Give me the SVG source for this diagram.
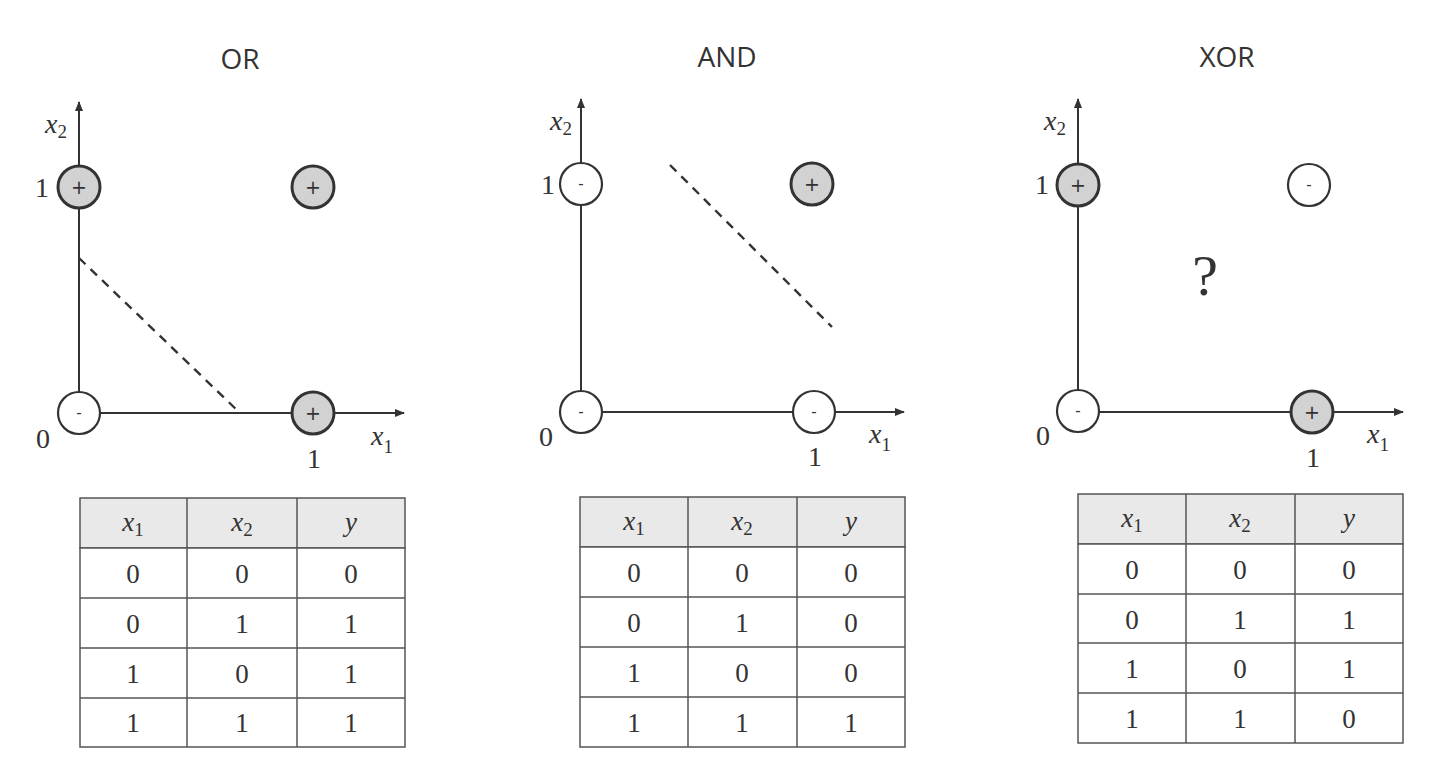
<svg xmlns="http://www.w3.org/2000/svg" width="1440" height="760" viewBox="0 0 1440 760">
<defs>
<marker id="arr" viewBox="0 0 10 10" refX="9" refY="5" markerWidth="10" markerHeight="10" markerUnits="userSpaceOnUse" orient="auto">
<path d="M0,1 L10,5 L0,9 Z" fill="#333"/>
</marker>
</defs>
<style>
.title{font-family:"Open Sans","Liberation Sans",sans-serif;font-size:28px;fill:#333;text-anchor:middle}
.axis{stroke:#333;stroke-width:2;fill:none}
.dash{stroke:#333;stroke-width:2.4;stroke-dasharray:9,7;fill:none}
.pos{fill:#d2d2d2;stroke:#333;stroke-width:3}
.neg{fill:#fff;stroke:#333;stroke-width:2.2}
.sym{font-family:"DejaVu Sans",sans-serif;font-size:19px;fill:#333;text-anchor:middle}
.msym{font-family:"DejaVu Sans",sans-serif;font-size:15px;fill:#333;text-anchor:middle}
.num{font-family:"Liberation Serif",serif;font-size:28px;fill:#333;text-anchor:middle}
.var{font-family:"Liberation Serif",serif;font-style:italic;font-size:28px;fill:#333;text-anchor:middle}
.sub{font-size:19px;font-style:normal}
.hvar{font-family:"Liberation Serif",serif;font-style:italic;font-size:27px;fill:#333;text-anchor:middle}
.hsub{font-size:19px;font-style:normal}
.hdr{fill:#e9e9e9;stroke:#555;stroke-width:1.5}
.cell{fill:#fff;stroke:#555;stroke-width:1.5}
.grid{stroke:#555;stroke-width:1.5;fill:none}
.tnum{font-family:"Liberation Serif",serif;font-size:27px;fill:#333;text-anchor:middle}
</style>

<!-- OR panel -->
<g id="or-panel">
<text class="title" x="240" y="69">OR</text>
<g id="or-axes">
<line class="axis" x1="79" y1="413" x2="79" y2="102" marker-end="url(#arr)"/>
<line class="axis" x1="79" y1="413" x2="404" y2="413" marker-end="url(#arr)"/>
<line class="dash" x1="79" y1="258" x2="240" y2="413"/>
</g>
<text class="var" x="56" y="133">x<tspan class="sub" dy="5">2</tspan></text>
<text class="num" x="42" y="197">1</text>
<text class="num" x="43" y="448">0</text>
<text class="var" x="382" y="445">x<tspan class="sub" dy="8">1</tspan></text>
<text class="num" x="314" y="468">1</text>
<g id="or-p01"><circle class="pos" cx="79" cy="187" r="21"/><text class="sym" x="79" y="194">+</text></g>
<g id="or-p11"><circle class="pos" cx="313" cy="187" r="21"/><text class="sym" x="313" y="194">+</text></g>
<g id="or-p00"><circle class="neg" cx="79" cy="413" r="21"/><text class="msym" x="79" y="418">-</text></g>
<g id="or-p10"><circle class="pos" cx="313" cy="413" r="21"/><text class="sym" x="313" y="420">+</text></g>
<g id="or-table">
<rect class="hdr" x="80" y="498" width="325" height="50"/>
<rect class="cell" x="80" y="548" width="325" height="199"/>
<path class="grid" d="M187,498 V747 M297,498 V747 M80,598 H405 M80,648 H405 M80,698 H405"/>
<text class="hvar" x="133" y="531">x<tspan class="hsub" dy="5">1</tspan></text>
<text class="hvar" x="242" y="531">x<tspan class="hsub" dy="5">2</tspan></text>
<text class="hvar" x="351" y="531">y</text>
<text class="tnum" x="133" y="583">0</text><text class="tnum" x="242" y="583">0</text><text class="tnum" x="351" y="583">0</text>
<text class="tnum" x="133" y="633">0</text><text class="tnum" x="242" y="633">1</text><text class="tnum" x="351" y="633">1</text>
<text class="tnum" x="133" y="683">1</text><text class="tnum" x="242" y="683">0</text><text class="tnum" x="351" y="683">1</text>
<text class="tnum" x="133" y="732">1</text><text class="tnum" x="242" y="732">1</text><text class="tnum" x="351" y="732">1</text>
</g>
</g>

<!-- AND panel -->
<g id="and-panel">
<text class="title" x="727" y="67">AND</text>
<g id="and-axes">
<line class="axis" x1="581" y1="412" x2="581" y2="99" marker-end="url(#arr)"/>
<line class="axis" x1="581" y1="412" x2="904" y2="412" marker-end="url(#arr)"/>
<line class="dash" x1="670" y1="165" x2="832" y2="327"/>
</g>
<text class="var" x="561" y="130">x<tspan class="sub" dy="5">2</tspan></text>
<text class="num" x="548" y="194">1</text>
<text class="num" x="546" y="446">0</text>
<text class="var" x="880" y="443">x<tspan class="sub" dy="8">1</tspan></text>
<text class="num" x="815" y="466">1</text>
<g id="and-p01"><circle class="neg" cx="581" cy="184" r="21"/><text class="msym" x="581" y="189">-</text></g>
<g id="and-p11"><circle class="pos" cx="812" cy="184" r="21"/><text class="sym" x="812" y="191">+</text></g>
<g id="and-p00"><circle class="neg" cx="581" cy="412" r="21"/><text class="msym" x="581" y="417">-</text></g>
<g id="and-p10"><circle class="neg" cx="814" cy="412" r="21"/><text class="msym" x="814" y="417">-</text></g>
<g id="and-table">
<rect class="hdr" x="580" y="497" width="325" height="50"/>
<rect class="cell" x="580" y="547" width="325" height="200"/>
<path class="grid" d="M688,497 V747 M797,497 V747 M580,597 H905 M580,647 H905 M580,697 H905"/>
<text class="hvar" x="634" y="530">x<tspan class="hsub" dy="5">1</tspan></text>
<text class="hvar" x="742" y="530">x<tspan class="hsub" dy="5">2</tspan></text>
<text class="hvar" x="851" y="530">y</text>
<text class="tnum" x="634" y="582">0</text><text class="tnum" x="742" y="582">0</text><text class="tnum" x="851" y="582">0</text>
<text class="tnum" x="634" y="632">0</text><text class="tnum" x="742" y="632">1</text><text class="tnum" x="851" y="632">0</text>
<text class="tnum" x="634" y="682">1</text><text class="tnum" x="742" y="682">0</text><text class="tnum" x="851" y="682">0</text>
<text class="tnum" x="634" y="732">1</text><text class="tnum" x="742" y="732">1</text><text class="tnum" x="851" y="732">1</text>
</g>
</g>

<!-- XOR panel -->
<g id="xor-panel">
<text class="title" x="1227" y="67">XOR</text>
<g id="xor-axes">
<line class="axis" x1="1078" y1="412" x2="1078" y2="99" marker-end="url(#arr)"/>
<line class="axis" x1="1078" y1="412" x2="1403" y2="412" marker-end="url(#arr)"/>
</g>
<text class="var" x="1055" y="130">x<tspan class="sub" dy="5">2</tspan></text>
<text class="num" x="1042" y="194">1</text>
<text class="num" x="1043" y="445">0</text>
<text class="var" x="1378" y="443">x<tspan class="sub" dy="8">1</tspan></text>
<text class="num" x="1313" y="467">1</text>
<text class="num" x="1205" y="295" style="font-size:58px">?</text>
<g id="xor-p01"><circle class="pos" cx="1078" cy="185" r="21"/><text class="sym" x="1078" y="192">+</text></g>
<g id="xor-p11"><circle class="neg" cx="1309" cy="185" r="21"/><text class="msym" x="1309" y="190">-</text></g>
<g id="xor-p00"><circle class="neg" cx="1078" cy="411" r="21"/><text class="msym" x="1078" y="416">-</text></g>
<g id="xor-p10"><circle class="pos" cx="1312" cy="412" r="21"/><text class="sym" x="1312" y="419">+</text></g>
<g id="xor-table">
<rect class="hdr" x="1078" y="494" width="325" height="50"/>
<rect class="cell" x="1078" y="544" width="325" height="199"/>
<path class="grid" d="M1186,494 V743 M1295,494 V743 M1078,594 H1403 M1078,643 H1403 M1078,693 H1403"/>
<text class="hvar" x="1132" y="527">x<tspan class="hsub" dy="5">1</tspan></text>
<text class="hvar" x="1240" y="527">x<tspan class="hsub" dy="5">2</tspan></text>
<text class="hvar" x="1349" y="527">y</text>
<text class="tnum" x="1132" y="579">0</text><text class="tnum" x="1240" y="579">0</text><text class="tnum" x="1349" y="579">0</text>
<text class="tnum" x="1132" y="629">0</text><text class="tnum" x="1240" y="629">1</text><text class="tnum" x="1349" y="629">1</text>
<text class="tnum" x="1132" y="678">1</text><text class="tnum" x="1240" y="678">0</text><text class="tnum" x="1349" y="678">1</text>
<text class="tnum" x="1132" y="728">1</text><text class="tnum" x="1240" y="728">1</text><text class="tnum" x="1349" y="728">0</text>
</g>
</g>
</svg>
